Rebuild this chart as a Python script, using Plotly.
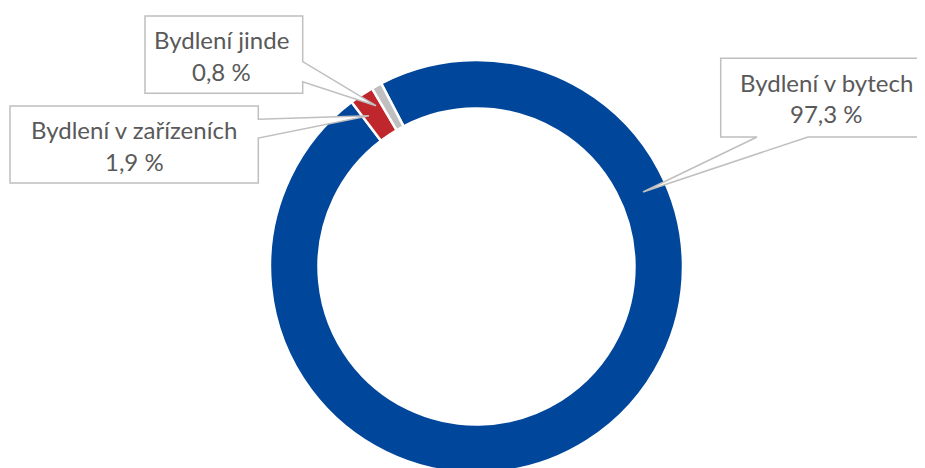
import plotly.graph_objects as go

# ---- data ----
labels = ["Bydlení v bytech", "Bydlení v zařízeních", "Bydlení jinde"]
values = [97.3, 1.9, 0.8]
colors = ["#00469B", "#C0272D", "#BFBFBF"]

W, H = 925, 468
OX, OY = 8, 8  # page body margin offset

def P(x, y):
    return (x - OX) / W, 1 - (y - OY) / H

def fmt(v):
    return f"{v:.1f}".replace(".", ",") + " %"

fig = go.Figure(go.Pie(
    labels=labels, values=values, sort=False, direction="clockwise",
    rotation=-27.5, hole=0.765,
    marker=dict(colors=colors, line=dict(color="white", width=2.5)),
    textinfo="none", hoverinfo="label+percent",
    domain=dict(x=[(270 - OX) / W, (683 - OX) / W], y=[0, 1 - (57 - OY) / H]),
))

callouts = [
    dict(i=0, box=(720.7, 58.3, 924, 137), side="bottom", w=(757, 808), tip=(643, 192),
         cx=826.5, base=(90.7, 121.7)),
    dict(i=2, box=(145, 16, 302.7, 93.3), side="right", w=(61.7, 81.7), tip=(376, 105.7),
         cx=221, base=(48.3, 80)),
    dict(i=1, box=(10, 106, 258.3, 183), side="right", w=(119.3, 138), tip=(369, 115.7),
         cx=134, base=(138.3, 170)),
]

shapes = []
annotations = []
FS = 24
for c in callouts:
    x0, y0, x1, y1 = c["box"]
    a, b = c["w"]
    tx, ty = c["tip"]
    if c["side"] == "bottom":
        pts = [(x0, y0), (x1, y0), (x1, y1), (b, y1), (tx, ty), (a, y1), (x0, y1)]
    else:
        pts = [(x0, y0), (x1, y0), (x1, a), (tx, ty), (x1, b), (x1, y1), (x0, y1)]
    path = ""
    for k, (px, py) in enumerate(pts):
        u, v = P(px, py)
        path += ("M" if k == 0 else "L") + f"{u:.5f},{v:.5f} "
    path += "Z"
    shapes.append(dict(type="path", xref="paper", yref="paper", path=path,
                       fillcolor="white", line=dict(color="#BFBFBF", width=1.5),
                       layer="above"))
    texts = [labels[c["i"]], fmt(values[c["i"]])]
    for t, bl in zip(texts, c["base"]):
        u, v = P(c["cx"], bl - 0.36 * FS)
        annotations.append(dict(text=t, x=u, y=v, xref="paper", yref="paper",
                                xanchor="center", yanchor="middle", showarrow=False,
                                font=dict(family="Lato", size=FS, color="#595959")))

fig.update_layout(
    width=W, height=H, margin=dict(l=0, r=0, t=0, b=0),
    paper_bgcolor="white", plot_bgcolor="white", showlegend=False,
    shapes=shapes, annotations=annotations,
)

fig.write_html("out.html")
